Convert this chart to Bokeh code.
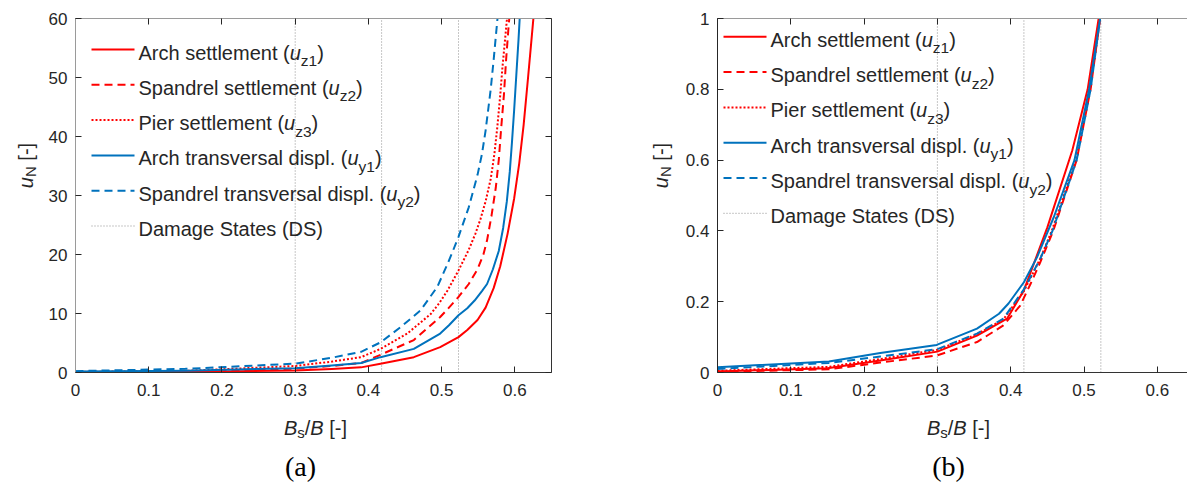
import numpy as np
from bokeh.plotting import figure
from bokeh.models import (Label, Arrow, LinearAxis, FixedTicker, NumeralTickFormatter,
                          Range1d, CustomJSTickFormatter)
from bokeh.layouts import row, column
from bokeh.embed import file_html
from bokeh.resources import INLINE

# ------------------------------------------------------------------ data
ds_thresholds = [0.3, 0.418, 0.523]

# panel (a): u_N [-] vs Bs/B [-]
a_x_uz1 = [0, 0.1, 0.2, 0.3, 0.35, 0.39, 0.4165, 0.462, 0.498, 0.523, 0.535, 0.549, 0.56, 0.571,
           0.58, 0.59, 0.599, 0.606, 0.612, 0.618, 0.622, 0.626]
a_y_uz1 = [0, 0.05, 0.15, 0.34, 0.6, 0.87, 1.5, 2.6, 4.3, 6.0, 7.2, 8.9, 11.0, 14.3,
           18.0, 23.5, 29.5, 35.5, 42.0, 50.0, 55.5, 61.0]
a_x_uz2 = [0, 0.15, 0.3, 0.35, 0.39, 0.4165, 0.462, 0.498, 0.51, 0.523, 0.537, 0.549, 0.557,
           0.562, 0.568, 0.574, 0.578, 0.581, 0.585, 0.588, 0.591, 0.593]
a_y_uz2 = [0.03, 0.11, 0.66, 1.1, 1.6, 3.0, 5.5, 9.4, 11.0, 12.8, 15.0, 17.5, 20.0,
           22.4, 26.5, 31.4, 36.0, 41.0, 47.0, 53.0, 58.0, 61.0]
a_x_uz3 = [0, 0.15, 0.3, 0.35, 0.39, 0.4165, 0.453, 0.485, 0.497, 0.508, 0.523, 0.537, 0.546,
           0.553, 0.56, 0.567, 0.572, 0.576, 0.58, 0.583, 0.587, 0.59]
a_y_uz3 = [0.09, 0.28, 1.1, 1.85, 2.6, 4.0, 6.6, 9.9, 11.8, 13.9, 17.3, 20.8, 23.5,
           26.0, 29.0, 32.8, 37.0, 41.6, 47.0, 51.7, 57.0, 61.0]
a_x_uy1 = [0, 0.15, 0.3, 0.35, 0.39, 0.4165, 0.462, 0.498, 0.51, 0.523, 0.535, 0.545, 0.555,
           0.562, 0.57, 0.578, 0.584, 0.589, 0.593, 0.596, 0.599, 0.602, 0.605, 0.607]
a_y_uy1 = [0.15, 0.3, 0.74, 1.2, 1.6, 2.6, 4.0, 6.6, 8.0, 9.7, 10.9, 12.2, 13.8,
           15.0, 17.5, 20.6, 24.5, 29.0, 34.0, 39.0, 44.5, 50.5, 56.5, 61.0]
a_x_uy2 = [0, 0.15, 0.3, 0.35, 0.39, 0.4165, 0.444, 0.471, 0.494, 0.508, 0.515, 0.523, 0.537,
           0.549, 0.555, 0.56, 0.564, 0.567, 0.571, 0.574, 0.577]
a_y_uy2 = [0.23, 0.62, 1.5, 2.5, 3.5, 5.1, 7.7, 10.5, 14.5, 18.4, 20.5, 23.0, 28.0,
           33.5, 37.0, 41.0, 45.0, 48.0, 53.0, 57.0, 61.0]

# panel (b): normalised u_N [-] vs Bs/B [-]
b_x_uz1 = [0, 0.15, 0.222, 0.3, 0.354, 0.395, 0.418, 0.45, 0.484, 0.505, 0.52]
b_y_uz1 = [0.003, 0.012, 0.034, 0.059, 0.104, 0.152, 0.232, 0.41, 0.627, 0.8, 1.0]
b_x_uz2 = [0, 0.152, 0.222, 0.299, 0.354, 0.39, 0.413, 0.427, 0.44, 0.458, 0.49, 0.509, 0.522]
b_y_uz2 = [0.002, 0.009, 0.028, 0.048, 0.086, 0.133, 0.189, 0.25, 0.31, 0.4, 0.6, 0.8, 1.0]
b_x_uz3 = [0, 0.152, 0.222, 0.3, 0.354, 0.39, 0.418, 0.44, 0.456, 0.489, 0.508, 0.522]
b_y_uz3 = [0.005, 0.016, 0.038, 0.064, 0.108, 0.15, 0.23, 0.32, 0.4, 0.6, 0.8, 1.0]
b_x_uy1 = [0, 0.152, 0.222, 0.299, 0.354, 0.384, 0.397, 0.418, 0.436, 0.459, 0.487, 0.507, 0.522]
b_y_uy1 = [0.015, 0.031, 0.055, 0.078, 0.124, 0.166, 0.195, 0.255, 0.326, 0.44, 0.6, 0.8, 1.0]
b_x_uy2 = [0, 0.152, 0.222, 0.3, 0.354, 0.39, 0.418, 0.44, 0.457, 0.49, 0.509, 0.522]
b_y_uy2 = [0.01, 0.027, 0.045, 0.066, 0.11, 0.152, 0.235, 0.32, 0.4, 0.6, 0.8, 1.0]

x_ticks = [0, 0.1, 0.2, 0.3, 0.4, 0.5, 0.6]
a_y_ticks = [0, 10, 20, 30, 40, 50, 60]
b_y_ticks = [0, 0.2, 0.4, 0.6, 0.8, 1.0]

legend_texts = ["Arch settlement (", "Spandrel settlement (", "Pier settlement (",
                "Arch transversal displ. (", "Spandrel transversal displ. (", "Damage States (DS)"]
legend_subs = ["z1", "z2", "z3", "y1", "y2", None]
panel_letters = ["(a)", "(b)"]

# ------------------------------------------------------------------ styles
RED = "#FF0000"
BLUE = "#0072BD"
TXT = "#262626"
FONT = "Liberation Sans"
series_styles = [(RED, "solid"), (RED, "8 5"), (RED, "2 2"), (BLUE, "solid"), (BLUE, "8 5")]
DS_COLOR = "#8f8f8f"
DS_DASH = "1 2"

# Arial / Liberation Sans advance widths (per 1000 em)
W = {' ': 278, '(': 333, ')': 333, '.': 278, '/': 278, '[': 278, ']': 278, '-': 333,
     'A': 667, 'B': 667, 'D': 722, 'P': 667, 'S': 667, 'N': 722,
     'a': 556, 'b': 556, 'c': 500, 'd': 556, 'e': 556, 'g': 556, 'h': 556, 'i': 222,
     'l': 222, 'm': 833, 'n': 556, 'o': 556, 'p': 556, 'r': 333, 's': 500, 't': 278,
     'u': 556, 'v': 500, 'y': 500, 'z': 500}


def tw(s, size):
    return sum(W.get(c, 556) for c in s) * size / 1000.0


def draw_rich(p, segs, x0, y0, rotated=False, center=False):
    total = sum(tw(t, s) for t, s, it, dy in segs)
    pos = -total / 2 if center else 0.0
    for t, s, it, dy in segs:
        lead = len(t) - len(t.lstrip(" "))
        txt = t.strip(" ")
        off = pos + tw(" " * lead, s)
        if txt:
            if rotated:
                lx, ly = x0 + dy, y0 + off
            else:
                lx, ly = x0 + off, y0 - dy
            p.add_layout(Label(x=lx, y=ly, x_units="screen", y_units="screen", text=txt,
                               angle=(np.pi / 2 if rotated else 0), text_font=FONT,
                               text_font_size=f"{s}px",
                               text_font_style=("italic" if it else "normal"),
                               text_baseline="alphabetic", text_align="left",
                               text_color=TXT))
        pos += tw(t, s)


FH = 354          # frame height (px)
TOP = 18          # frame top (px)
PH = 402          # height of plot figures (frame + tick labels)
SH = 482 - PH     # height of strips under plots
YLW = 40          # width of y-label strips


def strip(w, h):
    s = figure(width=w, height=h, x_range=Range1d(0, w), y_range=Range1d(0, h),
               min_border=0, x_axis_type=None, y_axis_type=None,
               output_backend="svg", toolbar_location=None, tools="")
    s.grid.visible = False
    s.outline_line_color = None
    s.background_fill_color = "white"
    s.border_fill_color = "white"
    return s


def make_fig(x_end, y_end, yticks, y_fmt, min_left, frame_w, min_right,
             left_col, right_axis):
    p = figure(frame_width=frame_w, frame_height=FH,
               x_range=Range1d(0, x_end), y_range=Range1d(0, y_end),
               min_border_left=min_left, min_border_right=min_right,
               min_border_top=TOP, min_border_bottom=PH - FH - TOP,
               output_backend="svg", toolbar_location=None, tools="")
    p.grid.visible = False
    p.outline_line_color = None
    p.background_fill_color = "white"
    p.border_fill_color = "white"

    for ax in p.xaxis:
        ax.ticker = FixedTicker(ticks=x_ticks)
        ax.formatter = NumeralTickFormatter(format="0.[0]")
        ax.axis_line_color = "#333333"
    for ax in p.yaxis:
        ax.ticker = FixedTicker(ticks=yticks)
        ax.formatter = y_fmt
        ax.axis_line_color = left_col
    for ax in list(p.xaxis) + list(p.yaxis):
        ax.major_tick_in = 6
        ax.major_tick_out = 0
        ax.minor_tick_line_color = None
        ax.major_tick_line_color = TXT
        ax.major_label_text_font = FONT
        ax.major_label_text_font_size = "17px"
        ax.major_label_text_color = TXT
    p.xaxis.major_label_standoff = 11
    p.yaxis.major_label_standoff = 8

    empty = CustomJSTickFormatter(code="return ''")
    top = LinearAxis(ticker=FixedTicker(ticks=x_ticks), formatter=empty,
                     major_tick_in=6, major_tick_out=0, minor_tick_line_color=None,
                     axis_line_color="#9a9a9a", major_tick_line_color=TXT,
                     major_label_standoff=0, major_label_text_font_size="1px")
    p.add_layout(top, "above")
    if right_axis:
        rt = LinearAxis(ticker=FixedTicker(ticks=yticks), formatter=empty,
                        major_tick_in=6, major_tick_out=0, minor_tick_line_color=None,
                        axis_line_color="#333333", major_tick_line_color=TXT,
                        major_label_standoff=0, major_label_text_font_size="1px")
        p.add_layout(rt, "right")
    return p


def add_content(p, xs, ys, y_top, leg_x0, leg_y_top):
    p.segment(x0=ds_thresholds, y0=[0] * 3, x1=ds_thresholds, y1=[y_top] * 3,
              line_color=DS_COLOR, line_width=1, line_dash=DS_DASH)
    for (x, y), (col, dash) in zip(zip(xs, ys), series_styles):
        p.line(x, y, line_color=col, line_width=2, line_dash=dash, line_join="round")

    step = 35.3
    styles = series_styles + [(DS_COLOR, DS_DASH)]
    for i, (txt, sub) in enumerate(zip(legend_texts, legend_subs)):
        ly = FH - (leg_y_top + step * i)
        col, dash = styles[i]
        p.add_layout(Arrow(start=None, end=None, x_start=leg_x0, y_start=ly,
                           x_end=leg_x0 + 43, y_end=ly, start_units="screen",
                           end_units="screen", line_color=col,
                           line_width=(1 if i == 5 else 2), line_dash=dash))
        segs = [(txt, 20, False, 0)]
        if sub is not None:
            segs += [("u", 20, True, 0), (sub, 15.5, False, 8), (")", 20, False, 0)]
        draw_rich(p, segs, leg_x0 + 47, ly - 3)


def xlabel_strip(w, cx, letter, letter_cx):
    s = strip(w, SH)
    xl = [("B", 20, True, 0), ("s", 15, False, 5), ("/", 20, False, 0),
          ("B", 20, True, 0), (" [-]", 20, False, 0)]
    draw_rich(s, xl, cx, SH - (427 - PH), center=True)
    s.add_layout(Label(x=letter_cx, y=SH - (466 - PH), x_units="screen", y_units="screen",
                       text=letter, text_font="Liberation Serif", text_font_size="28px",
                       text_align="center", text_baseline="alphabetic", text_color="black"))
    return s


def ylabel_strip(bx):
    s = strip(YLW, PH)
    yl = [("u", 20, True, 0), ("N", 15, False, 5), (" [-]", 20, False, 0)]
    draw_rich(s, yl, bx, PH - (TOP + FH / 2), rotated=True, center=True)
    return s


# ---------------------------------------------------------------- panel (a)
LW = 641
p1 = make_fig(0.65, 60, a_y_ticks, NumeralTickFormatter(format="0"), 75 - YLW, 476,
              LW - 75 - 476, "#9a9a9a", True)
add_content(p1, [a_x_uz1, a_x_uz2, a_x_uz3, a_x_uy1, a_x_uy2],
            [a_y_uz1, a_y_uz2, a_y_uz3, a_y_uy1, a_y_uy2], 60, 16, 31)
yl1 = ylabel_strip(25)
xs1 = xlabel_strip(LW, 315, panel_letters[0], 300)

# ---------------------------------------------------------------- panel (b)
RW = 1187 - LW
p2 = make_fig(470 / 733.0, 1, b_y_ticks, NumeralTickFormatter(format="0.[0]"),
              717 - LW - YLW, 470, 0, "#262626", False)
add_content(p2, [b_x_uz1, b_x_uz2, b_x_uz3, b_x_uy1, b_x_uy2],
            [b_y_uz1, b_y_uz2, b_y_uz3, b_y_uy1, b_y_uy2], 1, 6, 18.3)
yl2 = ylabel_strip(660 - LW)
xs2 = xlabel_strip(RW, 958 - LW, panel_letters[1], 948 - LW)

layout = row(column(row(yl1, p1), xs1), column(row(yl2, p2), xs2))
open("out.html", "w").write(file_html(layout, INLINE))
